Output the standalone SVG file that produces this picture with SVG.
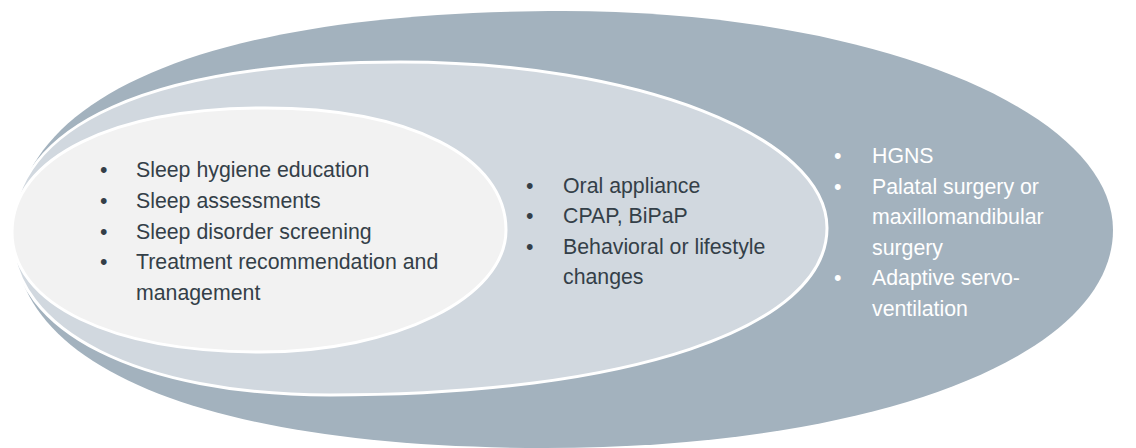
<svg xmlns="http://www.w3.org/2000/svg" width="1136" height="448" viewBox="0 0 1136 448">
<style>
.t{font-family:"Liberation Sans",Arial,sans-serif;font-size:21.3px}
.dk{fill:#343F48}
.wh{fill:#FFFFFF}
.ring{stroke:#FFFFFF;stroke-width:3}
</style>
<rect width="1136" height="448" fill="#FFFFFF"/>
<g id="outer">
<path d="M14,236 C14,98 204,11 563,11 C866.8,11 1113,109 1113,230 C1113,356.4 874.4,448 545,448 C208,448 14,368 14,236 Z" fill="#A3B2BE"/>
</g>
<g id="middle">
<path class="ring" d="M12,235 C12,125 150,62 400,62 C635.8,62 827,136.3 827,228 C827,328.2 628.2,395 330,395 C139.2,395 12,331 12,235 Z" fill="#D1D8DF"/>
</g>
<g id="inner">
<path class="ring" d="M12,232 C12,157.6 113.2,108 265,108 C409.6,108 506,156.8 506,230 C506,297.4 395.9,352 260,352 C111.2,352 12,304 12,232 Z" fill="#F2F2F2"/>
</g>
<g id="inner-list" class="t dk">
<text x="100" y="177.3">•</text><text x="136" y="177.3">Sleep hygiene education</text>
<text x="100" y="208">•</text><text x="136" y="208">Sleep assessments</text>
<text x="100" y="238.6">•</text><text x="136" y="238.6">Sleep disorder screening</text>
<text x="100" y="269.2">•</text><text x="136" y="269.2">Treatment recommendation and</text>
<text x="136" y="299.8">management</text>
</g>
<g id="middle-list" class="t dk">
<text x="526" y="192.5">•</text><text x="563" y="192.5">Oral appliance</text>
<text x="526" y="223">•</text><text x="563" y="223">CPAP, BiPaP</text>
<text x="526" y="253.7">•</text><text x="563" y="253.7">Behavioral or lifestyle</text>
<text x="563" y="284.3">changes</text>
</g>
<g id="outer-list" class="t wh">
<text x="834" y="163">•</text><text x="872" y="163">HGNS</text>
<text x="834" y="193.6">•</text><text x="872" y="193.6">Palatal surgery or</text>
<text x="872" y="224.2">maxillomandibular</text>
<text x="872" y="254.8">surgery</text>
<text x="834" y="285.4">•</text><text x="872" y="285.4">Adaptive servo-</text>
<text x="872" y="316">ventilation</text>
</g>
</svg>
